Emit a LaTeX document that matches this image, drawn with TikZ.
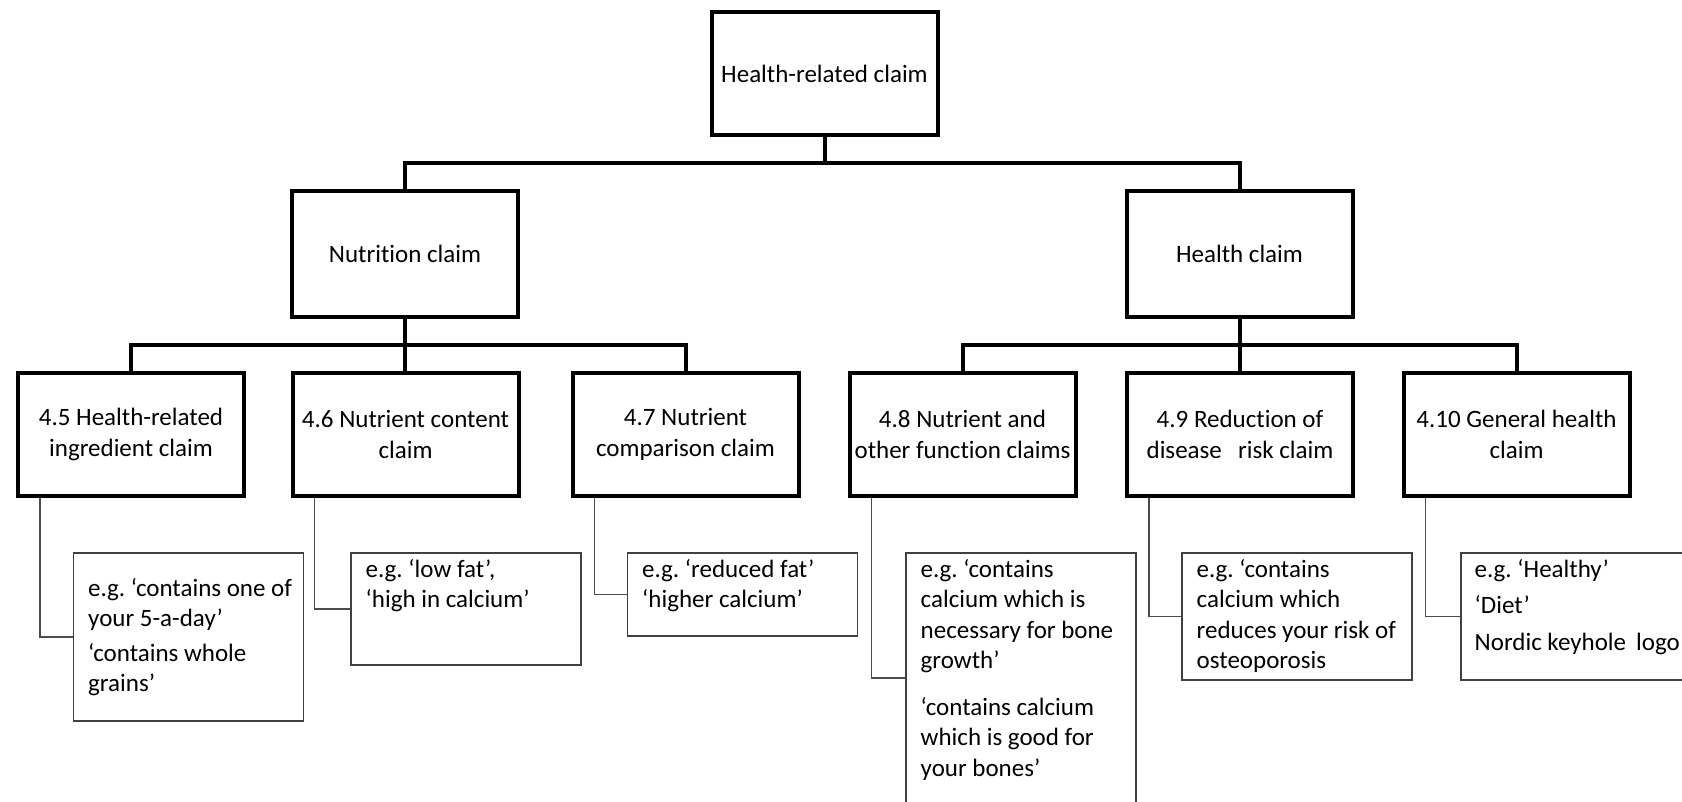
\documentclass[tikz,border=0pt]{standalone}
\usepackage{fontspec}
\setmainfont{Carlito}[Ligatures=NoCommon,RawFeature={-clig;-dlig}]
\usetikzlibrary{calc}

\begin{document}
\frenchspacing
\begin{tikzpicture}[x=0.5pt,y=-0.5pt,
  every node/.style={font=\fontsize{12.5}{15.25}\selectfont},
  claimbox/.style={draw=black, line width=2pt, minimum width=113pt,
    minimum height=61.5pt, inner sep=0pt, align=center},
  examplebox/.style={draw=black!75, line width=0.7pt, minimum width=115pt, inner sep=0pt},
  exampletext/.style={anchor=north west, inner sep=0pt, align=left},
  bus/.style={line width=2pt},
  leader/.style={draw=black!70, line width=0.7pt},
]
\clip (0,0) rectangle (1682,802);

% top level
\node[claimbox] (root) at (824.5,73.5) {Health-related claim};

% second level
\node[claimbox, minimum height=63pt] (nut) at (405,254) {Nutrition claim};
\node[claimbox, minimum height=63pt] (hea) at (1239.5,254) {Health claim};

% third level
\node[claimbox] (c45)  at (131,434.5)    {4.5 Health-related\\ingredient claim};
\node[claimbox] (c46)  at (405.5,434.5)  {4.6 Nutrient content\\claim};
\node[claimbox] (c47)  at (685.5,434.5)  {4.7 Nutrient\\comparison claim};
\node[claimbox] (c48)  at (962.5,434.5)  {4.8 Nutrient and\\other function claims};
\node[claimbox] (c49)  at (1240,434.5)   {4.9 Reduction of\\disease\hspace{0.65em}risk claim};
\node[claimbox] (c410) at (1516.5,434.5) {4.10 General health\\claim};

% example boxes
\node[examplebox, minimum height=84pt]   (d45)  at (188.5,637)  {};
\node[examplebox, minimum height=56pt]   (d46)  at (466,609)    {};
\node[examplebox, minimum height=41.5pt] (d47)  at (742.5,594.5){};
\node[examplebox, minimum height=125pt]  (d48)  at (1021,678)   {};
\node[examplebox, minimum height=63.5pt] (d49)  at (1297,616.5) {};
\node[examplebox, minimum height=63.5pt] (d410) at (1576,616.5) {};

% example texts
\node[exampletext] (t45) at ($(d45.north west)+(15,22)$)
  {\strut e.g. ‘contains one of\\your 5-a-day’\\[2pt]‘contains whole\\grains’};
\node[exampletext] (t46) at ($(d46.north west)+(15,3)$)
  {\strut e.g. ‘low fat’,\\‘high in calcium’};
\node[exampletext] (t47) at ($(d47.north west)+(15,3)$)
  {\strut e.g. ‘reduced fat’\\‘higher calcium’};
\node[exampletext] (t48) at ($(d48.north west)+(15,3)$)
  {\strut e.g. ‘contains\\calcium which is\\necessary for bone\\growth’\\[8pt]‘contains calcium\\which is good for\\your bones’};
\node[exampletext] (t49) at ($(d49.north west)+(15,3)$)
  {\strut e.g. ‘contains\\calcium which\\reduces your risk of\\osteoporosis};
\node[exampletext] (t410) at ($(d410.north west)+(14,3)$)
  {\strut e.g. ‘Healthy’\\[3pt]‘Diet’\\[3pt]Nordic keyhole\hspace{0.4em}logo};

% tree connectors
\draw[bus] (root.south) -- ++(0,26);
\draw[bus] (nut.north) |- ($(root.south)+(0,26)$) -| (hea.north);

\draw[bus] (nut.south) -- (nut.south |- c46.north);
\draw[bus] (c45.north) |- ($(nut.south)+(0,26)$) -| (c47.north);

\draw[bus] (hea.south) -- (hea.south |- c49.north);
\draw[bus] (c48.north) |- ($(hea.south)+(0,26)$) -| (c410.north);

% leaders to the examples
\draw[leader] ([xshift=12pt]c45.south west)  |- (d45.west);
\draw[leader] ([xshift=12pt]c46.south west)  |- (d46.west);
\draw[leader] ([xshift=12pt]c47.south west)  |- (d47.west);
\draw[leader] ([xshift=12pt]c48.south west)  |- (d48.west);
\draw[leader] ([xshift=12pt]c49.south west)  |- (d49.west);
\draw[leader] ([xshift=12pt]c410.south west) |- (d410.west);
\end{tikzpicture}
\end{document}
